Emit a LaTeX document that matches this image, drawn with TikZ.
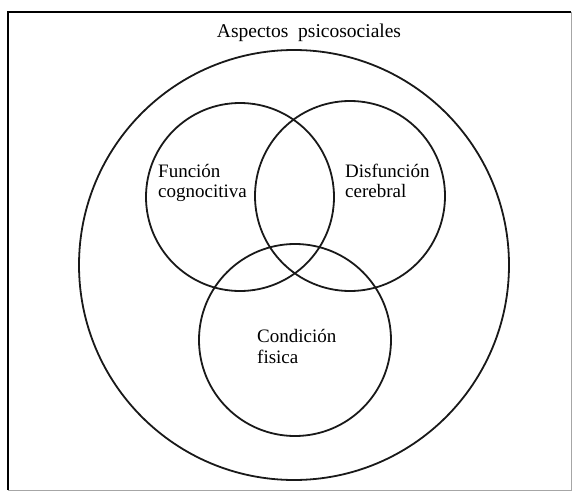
\documentclass[tikz,border=0pt]{standalone}
\usepackage{fontspec}
\setmainfont{Liberation Serif}
\begin{document}
\begin{tikzpicture}[x=1pt,y=-1pt,
  ring/.style={circle,draw=black!90,line width=1.8pt,inner sep=0pt},
  lbl/.style={anchor=base west,inner sep=0pt,font=\fontsize{19}{23}\selectfont}]
\useasboundingbox (0,0) rectangle (573,492);
% frame
\draw[line width=1.8pt] (8,490) -- (8,12) -- (571,12);
\draw[line width=0.6pt,black!35] (571,12) -- (571,490) -- (8,490);
% circles
\node[ring,minimum size=430pt] (outer) at (294,265) {};
\node[ring,minimum size=188pt] (cog) at (240,197) {};
\node[ring,minimum size=190pt] (cer) at (350,196) {};
\node[ring,minimum size=192pt] (fis) at (295,340) {};
% labels
\node[anchor=base,inner sep=0pt,font=\fontsize{19.5}{23}\selectfont] (tit) at (309,38) {Aspectos\ \ psicosociales};
\node[lbl] (f1) at (158,177) {Función};
\node[lbl] (f2) at (158,197) {cognocitiva};
\node[lbl] (d1) at (345,177) {Disfunción};
\node[lbl] (d2) at (345,197) {cerebral};
\node[lbl] (c1) at (257,342) {Condición};
\node[lbl] (c2) at (257,363) {fisica};
\end{tikzpicture}
\end{document}
